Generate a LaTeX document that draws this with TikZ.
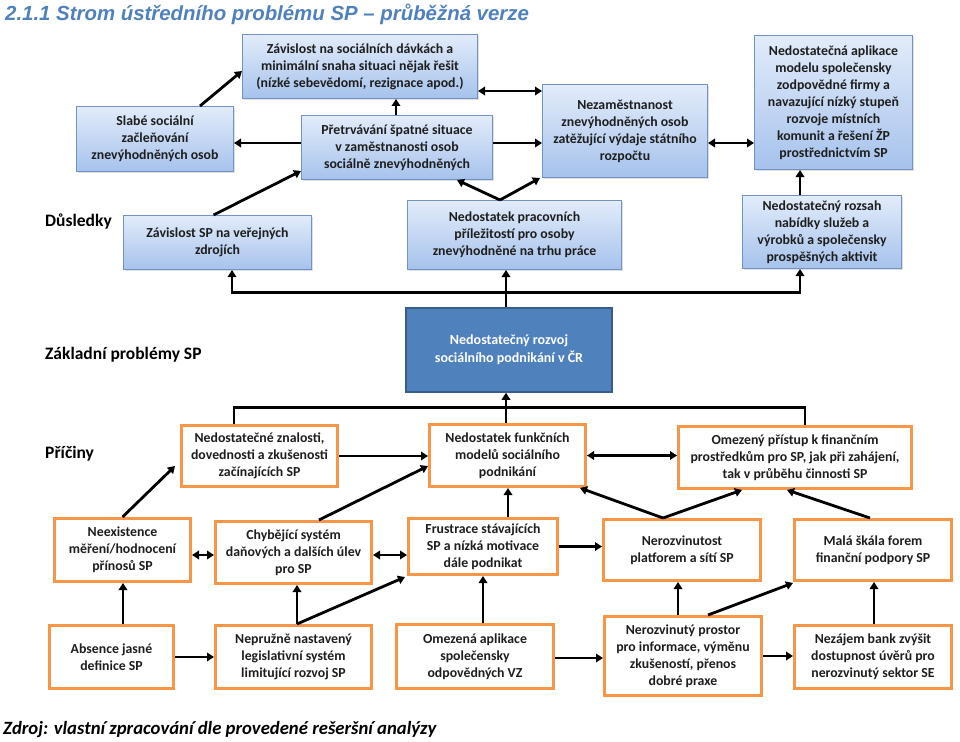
\documentclass[tikz,border=0pt]{standalone}
\usepackage{fontspec}
\setmainfont{Carlito}
\newfontfamily\titlefont{Liberation Sans}
\usetikzlibrary{arrows.meta,shadows,calc}
\definecolor{ttl}{HTML}{4F81BD}
\definecolor{bbord}{RGB}{112,146,196}
\definecolor{btop}{RGB}{226,236,250}
\definecolor{bbot}{RGB}{166,194,236}
\definecolor{cfill}{HTML}{4F81BD}
\definecolor{cbord}{HTML}{385D8A}
\definecolor{orng}{HTML}{F79646}
\definecolor{txt}{RGB}{30,30,30}
\begin{document}
\begin{tikzpicture}[x=1pt,y=-1pt,
  sz/.style 2 args={minimum width=#1, minimum height=#2},
  bluebox/.style={draw=bbord, line width=1pt, top color=btop, bottom color=bbot,
    align=center, inner sep=1pt, text=txt,
    font=\fontsize{13.8}{17}\selectfont\bfseries,
    drop shadow={opacity=0.25, shadow xshift=1.5pt, shadow yshift=-1.5pt}},
  corebox/.style={draw=cbord, line width=1.5pt, fill=cfill, align=center,
    inner sep=1pt, text=white, font=\fontsize{14}{18}\selectfont\bfseries},
  orbox/.style={draw=orng, line width=3pt, fill=white, align=center,
    inner sep=1pt, text=txt, font=\fontsize{13.8}{17}\selectfont\bfseries},
  lbl/.style={anchor=west, inner sep=0pt, font=\fontsize{17.5}{20}\selectfont\bfseries},
  ln/.style={line width=2.8pt},
  arr/.style={line width=2.8pt, -{Triangle[length=7pt,width=8.5pt]}},
  darr/.style={line width=2.8pt, {Triangle[length=7pt,width=8.5pt]}-{Triangle[length=7pt,width=8.5pt]}}
]
\useasboundingbox[fill=white] (0,0) rectangle (960,741);

% title and footer
\node[anchor=base west, inner sep=0pt, text=ttl, font=\titlefont\fontsize{20.4}{24}\selectfont\bfseries\itshape] (title) at (5,21)
  {2.1.1 Strom ústředního problému SP – průběžná verze};
\node[anchor=base west, inner sep=0pt, font=\fontsize{18.7}{22}\selectfont\bfseries\itshape] (foot) at (3,734)
  {Zdroj: vlastní zpracování dle provedené rešeršní analýzy};

% row labels
\node[lbl] (ldus) at (45,222) {Důsledky};
\node[lbl] (lzak) at (45,355) {Základní problémy SP};
\node[lbl] (lpri) at (45,454) {Příčiny};

% effects (blue)
\node[bluebox, sz={235pt}{64pt}] (Z1) at (360,66.5) {Závislost na sociálních dávkách a\\minimální snaha situaci nějak řešit\\(nízké sebevědomí, rezignace apod.)};
\node[bluebox, sz={157pt}{65pt}] (Z2) at (155,139) {Slabé sociální\\začleňování\\znevýhodněných osob};
\node[bluebox, sz={191pt}{64pt}] (Z3) at (397,147.5) {Přetrvávání špatné situace\\v zaměstnanosti osob\\sociálně znevýhodněných};
\node[bluebox, sz={165pt}{93pt}] (Z4) at (625,131) {Nezaměstnanost\\znevýhodněných osob\\zatěžující výdaje státního\\rozpočtu};
\node[bluebox, sz={158pt}{134pt}] (Z5) at (833.5,102.5) {Nedostatečná aplikace\\modelu společensky\\zodpovědné firmy a\\navazující nízký stupeň\\rozvoje místních\\komunit a řešení ŽP\\prostřednictvím SP};
\node[bluebox, sz={188pt}{54pt}] (Z6) at (217.5,242.5) {Závislost SP na veřejných\\zdrojích};
\node[bluebox, sz={214pt}{69pt}] (Z7) at (514.5,235) {Nedostatek pracovních\\příležitostí pro osoby\\znevýhodněné na trhu práce};
\node[bluebox, sz={159pt}{73pt}] (Z8) at (822,232) {Nedostatečný rozsah\\nabídky služeb a\\výrobků a společensky\\prospěšných aktivit};

% core problem
\node[corebox, sz={206pt}{84pt}] (CB) at (509,350) {Nedostatečný rozvoj\\sociálního podnikání v ČR};

% causes (orange)
\node[orbox, sz={156pt}{61pt}] (C1) at (259.5,456) {Nedostatečné znalosti,\\dovednosti a zkušenosti\\začínajících SP};
\node[orbox, sz={156pt}{62pt}] (C2) at (507.5,455.5) {Nedostatek funkčních\\modelů sociálního\\podnikání};
\node[orbox, sz={233pt}{62pt}] (C3) at (795,457.5) {Omezený přístup k finančním\\prostředkům pro SP, jak při zahájení,\\tak v průběhu činnosti SP};
\node[orbox, sz={136pt}{63pt}] (D1) at (122.5,550) {Neexistence\\měření/hodnocení\\přínosů SP};
\node[orbox, sz={156pt}{62pt}] (D2) at (293.5,552.5) {Chybějící systém\\daňových a dalších úlev\\pro SP};
\node[orbox, sz={149pt}{56pt}] (D3) at (483,546.5) {Frustrace stávajících\\SP a nízká motivace\\dále podnikat};
\node[orbox, sz={157pt}{61pt}] (D4) at (682,550) {Nerozvinutost\\platforem a sítí SP};
\node[orbox, sz={157pt}{61pt}] (D5) at (873,550) {Malá škála forem\\finanční podpory SP};
\node[orbox, sz={124pt}{63pt}] (E1) at (111.5,657) {Absence jasné\\definice SP};
\node[orbox, sz={156pt}{63pt}] (E2) at (293.5,657) {Nepružně nastavený\\legislativní systém\\limitující rozvoj SP};
\node[orbox, sz={157pt}{64pt}] (E3) at (475,656.5) {Omezená aplikace\\společensky\\odpovědných VZ};
\node[orbox, sz={157pt}{79pt}] (E4) at (683,656) {Nerozvinutý prostor\\pro informace, výměnu\\zkušeností, přenos\\dobré praxe};
\node[orbox, sz={157pt}{63pt}] (E5) at (873,657) {Nezájem bank zvýšit\\dostupnost úvěrů pro\\nerozvinutý sektor SE};

% ---- effects connectors
\coordinate (up) at ([xshift=-3pt,yshift=15pt]CB.north);
\draw[arr] ([xshift=-3pt]CB.north) -- ([xshift=-3pt]CB.north |- Z7.south);
\draw[arr] (up) -| ([xshift=14.5pt]Z6.south);
\draw[arr] (up) -| ([xshift=-22pt]Z8.south);
\draw[arr] ([xshift=-22pt]Z8.north) -- ([xshift=-22pt]Z8.north |- Z5.south);
\draw[arr] ([xshift=-4pt]Z6.north) -- ([yshift=9pt]Z3.south west);
\draw[arr] ([yshift=4.5pt]Z3.west) -- ([yshift=4.5pt]Z3.west -| Z2.east);
\draw[arr] ([xshift=45pt]Z2.north) -- ([yshift=28pt]Z1.south west);
\draw[arr] ([xshift=-1pt]Z3.north) -- ([xshift=-1pt]Z3.north |- Z1.south);
\draw[arr] ([xshift=-14.5pt]Z7.north) -- ([xshift=-36pt]Z3.south east);
\draw[arr] ([xshift=-14.5pt]Z7.north) -- ([xshift=-2pt]Z4.south west);
\draw[arr] ([yshift=4.5pt]Z3.east) -- ([yshift=4.5pt]Z3.east -| Z4.west);
\draw[darr] ([yshift=-24.5pt]Z1.east) -- ([yshift=-24.5pt]Z1.east -| Z4.west);
\draw[darr] ([yshift=-12pt]Z4.east) -- ([yshift=-12pt]Z4.east -| Z5.west);

% ---- causes connectors
\coordinate (dn) at ([xshift=-3pt,yshift=-15pt]CB.south);
\draw[arr] (dn) -- ([xshift=-3pt]CB.south);
\draw[ln] (dn) -| ([xshift=-25.5pt]C1.north);
\draw[ln] (dn) -| ([xshift=10pt]C3.north);
\draw[ln] (dn) -- (dn |- C2.north);
\draw[arr] (C1.east) -- (C1.east -| C2.west);
\draw[darr] (C2.east) -- (C2.east -| C3.west);
\draw[arr] (D1.north) -- ([xshift=-5pt,yshift=22pt]C1.south west);
\draw[arr] ([xshift=25.5pt]D2.north) -- ([yshift=22pt]C2.south west);
\draw[darr] ([yshift=-5pt]D1.east) -- ([yshift=-5pt]D1.east -| D2.west);
\draw[darr] ([yshift=-2.5pt]D2.east) -- ([yshift=-2.5pt]D2.east -| D3.west);
\draw[arr] ([xshift=25pt]D3.north) -- ([xshift=25pt]D3.north |- C2.south);
\draw[arr] (D3.east) -- (D3.east -| D4.west);
\draw[arr] ([xshift=-19pt]D4.north) -- ([xshift=-7pt]C2.south east);
\draw[arr] ([xshift=-19pt]D4.north) -- ([xshift=-53pt]C3.south);
\draw[arr] ([xshift=-3pt]D5.north) -- ([xshift=-8pt]C3.south);
\draw[arr] ([xshift=11.5pt]E1.north) -- ([xshift=11.5pt]E1.north |- D1.south);
\draw[arr] (E1.east) -- (E1.east -| E2.west);
\draw[arr] ([xshift=3.5pt]E2.north) -- ([xshift=3.5pt]E2.north |- D2.south);
\draw[arr] ([xshift=3.5pt]E2.north) -- ([xshift=-2pt,yshift=-1pt]D3.south west);
\draw[arr] ([xshift=8pt]E3.north) -- ([xshift=8pt]E3.north |- D3.south);
\draw[arr] ([yshift=-1.5pt]E3.east) -- ([yshift=-1.5pt]E3.east -| E4.west);
\draw[arr] ([xshift=-5pt]E4.north) -- ([xshift=-5pt]E4.north |- D4.south);
\draw[arr] ([xshift=25pt]E4.north) -- ([yshift=-1pt]D5.south west);
\draw[arr] (E4.east) -- (E4.east -| E5.west);
\draw[arr] ([xshift=1pt]E5.north) -- ([xshift=1pt]E5.north |- D5.south);
\end{tikzpicture}
\end{document}
